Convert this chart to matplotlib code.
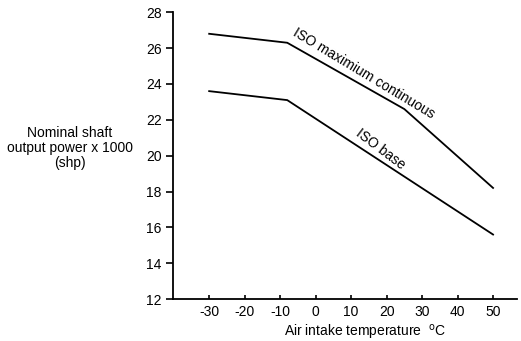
import matplotlib
matplotlib.use("Agg")
import matplotlib.pyplot as plt

plt.rcParams['font.family'] = ['Liberation Sans', 'DejaVu Sans']

# Air intake temperature (deg C) and nominal shaft output power (x1000 shp)
temp_max = [-30, -8, 25, 50]
power_max = [26.8, 26.3, 22.6, 18.2]
temp_base = [-30, -8, 50]
power_base = [23.6, 23.1, 15.6]

x_ticks = [-30, -20, -10, 0, 10, 20, 30, 40, 50]
y_ticks = [12, 14, 16, 18, 20, 22, 24, 26, 28]

fig = plt.figure(figsize=(5.21, 3.41), dpi=100)
ax = fig.add_axes([0.332, 0.123, 0.66, 0.841])

ax.plot(temp_max, power_max, color='black', lw=1.3, solid_joinstyle='miter')
ax.plot(temp_base, power_base, color='black', lw=1.3, solid_joinstyle='miter')

ax.set_xlim(-40.2, 56.7)
ax.set_ylim(12, 28)
ax.set_xticks(x_ticks)
ax.set_yticks(y_ticks)
ax.set_xticklabels([str(v) for v in x_ticks])
ax.set_yticklabels([str(v) for v in y_ticks])

for side in ('top', 'right'):
    ax.spines[side].set_visible(False)
for side in ('left', 'bottom'):
    ax.spines[side].set_linewidth(1.3)

ax.tick_params(axis='y', direction='out', length=5, width=1.2, labelsize=10, pad=3)
ax.tick_params(axis='x', direction='in', length=3, width=1.2, labelsize=10, pad=4)

ax.text(-6.2, 26.95, 'ISO maximium continuous', rotation=-31, rotation_mode='anchor',
        ha='left', va='center', fontsize=10)
ax.text(11.8, 21.35, 'ISO base', rotation=-37, rotation_mode='anchor',
        ha='left', va='center', fontsize=10)

fig.text(0.134, 0.567, 'Nominal shaft\noutput power x 1000\n(shp)', ha='center',
         va='center', fontsize=10, linespacing=1.1)
fig.text(0.70, 0.013, 'Air intake temperature  $^{\\mathrm{o}}$C', ha='center',
         va='baseline', fontsize=10)

fig.savefig('out.png', dpi=100)
